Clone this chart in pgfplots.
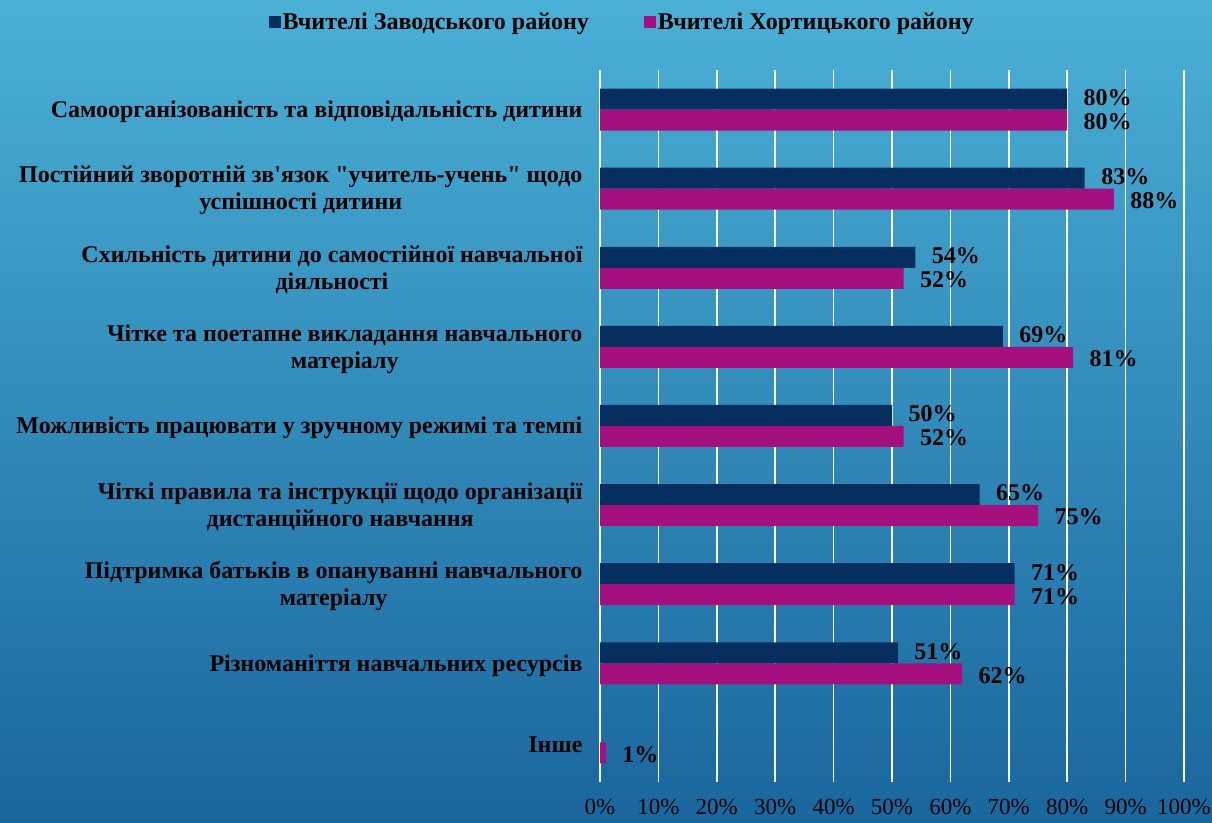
\documentclass[border=0pt]{standalone}
\usepackage{pgfplots}
\pgfplotsset{compat=1.18}
\usepackage{fontspec}
\setmainfont{Liberation Serif}
\definecolor{navy}{HTML}{062F60}
\definecolor{mag}{HTML}{A5107F}
\definecolor{bgtop}{HTML}{4AB0D6}
\definecolor{bgbot}{HTML}{1A669E}
\newcommand\lblfont{\fontsize{24}{27}\selectfont\bfseries}
\newcommand\valfont{\fontsize{24}{26}\selectfont\bfseries}
\begin{document}
\begin{tikzpicture}
\shade[top color=bgtop,bottom color=bgbot] (0pt,0pt) rectangle (1212pt,822pt);
\begin{axis}[
 at={(600pt,40pt)}, anchor=south west,
 scale only axis, width=584pt, height=712pt,
 xmin=0, xmax=100, ymin=-0.5, ymax=8.5,
 xbar, bar width=21pt,
 xtick={0,10,...,100},
 xticklabel={\pgfmathprintnumber{\tick}\%},
 /pgf/number format/assume math mode=true,
 xticklabel style={font=\fontsize{23}{25}\selectfont, text=black, yshift=-14pt},
 ytick={0,...,8},
 yticklabels={
  {Інше},
  {Різноманіття навчальних ресурсів},
  {Підтримка батьків в опануванні навчального\\ матеріалу},
  {Чіткі правила та інструкції щодо організації\\ дистанційного навчання},
  {Можливість працювати у зручному режимі та темпі},
  {Чітке та поетапне викладання навчального\\ матеріалу},
  {Схильність дитини до самостійної навчальної\\ діяльності},
  {Постійний зворотній зв\textquotesingle язок \textquotedbl учитель-учень\textquotedbl{} щодо\\ успішності дитини},
  {Самоорганізованість та відповідальність дитини}
 },
 yticklabel style={font=\lblfont, align=center, text=black, xshift=-14pt, yshift=-2pt},
 xmajorgrids, ymajorgrids=false, grid style={white, line width=1.5pt},
 axis line style={draw=none}, major tick length=0pt,
 point meta=x,
 nodes near coords={\pgfmathprintnumber{\pgfplotspointmeta}\%},
 nodes near coords style={font=\valfont, anchor=west, xshift=13pt, text=black, inner ysep=0pt},
 legend style={at={(axis description cs:0.038,1.067)}, anchor=center, draw=none, fill=none, font=\lblfont, text=black,
   /tikz/every even column/.append style={column sep=53pt}},
 legend columns=2,
 legend image code/.code={\fill[#1] (0pt,-6pt) rectangle (12pt,6pt);},
]
\addplot[fill=navy, draw=none, bar shift=10.5pt, every node near coord/.append style={yshift=1.5pt}] coordinates {(80,8) (83,7) (54,6) (69,5) (50,4) (65,3) (71,2) (51,1)};
\addplot[fill=mag, draw=none, bar shift=-10.5pt, every node near coord/.append style={yshift=-1.5pt}] coordinates {(80,8) (88,7) (52,6) (81,5) (52,4) (75,3) (71,2) (62,1) (1,0)};
\legend{Вчителі Заводського району, Вчителі Хортицького району}
\end{axis}
\pgfresetboundingbox
\path[use as bounding box] (0pt,0pt) rectangle (1212pt,822pt);
\end{tikzpicture}
\end{document}
